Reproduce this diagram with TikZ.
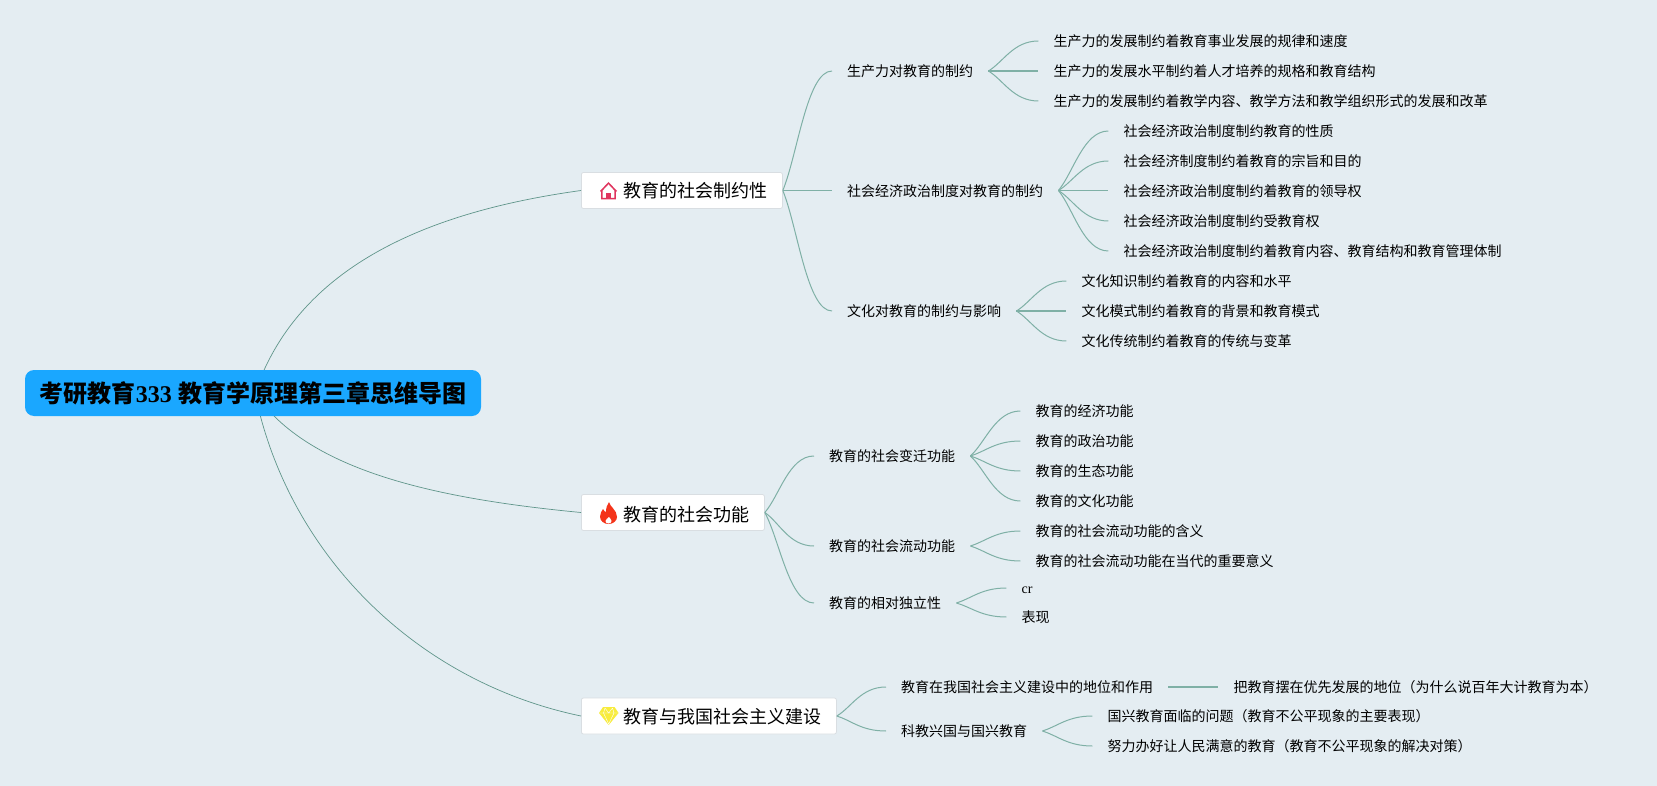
\documentclass[tikz,border=0pt]{standalone}
\usepackage{fontspec}
\setmainfont{Noto Sans CJK SC}
\newfontfamily\numfont{Liberation Serif}
\usepackage{xcolor}
\usetikzlibrary{positioning,calc}
\definecolor{bgcol}{HTML}{E4EDF2}
\definecolor{rootcol}{HTML}{1AA7FF}
\definecolor{linkcol}{HTML}{7FB0A6}
\definecolor{rootlink}{HTML}{5F958A}
\definecolor{framecol}{HTML}{D9DEE2}
\definecolor{housecol}{HTML}{E0345E}
\definecolor{flamecol}{HTML}{F4341A}
\definecolor{gemcol}{HTML}{F8EC3C}
\tikzset{
    rootnode/.style={fill=rootcol, rounded corners=9pt, minimum width=456pt, minimum height=46pt, inner sep=0pt, text height=22pt, text depth=2.8pt, font=\fontsize{24}{24}\selectfont\bfseries},
    mainnode/.style={fill=white, draw=framecol, line width=0.8pt, rounded corners=2pt, anchor=west, minimum height=36pt, inner sep=0pt},
    maintext/.style={anchor=west, inner sep=0pt, text height=18pt, text depth=2.2pt, font=\fontsize{18}{18}\selectfont},
    subnode/.style={anchor=west, inner xsep=15pt, inner ysep=2pt, text height=13.2pt, text depth=1.6pt, font=\fontsize{14}{14}\selectfont},
    leafnode/.style={subnode},
    rootedge/.style={draw=rootlink, line width=0.7pt},
    linkedge/.style={draw=linkcol, line width=1pt},
    straightedge/.style={draw=linkcol, line width=1.7pt},
}
% bent connector, leaves the parent on a slant and arrives level
\newcommand{\bendlink}[2]{\draw[linkedge] (#1.east) .. controls ($(#1.east)!0.3!(#2.west)$) and +(-25,0) .. (#2.west);}
\newcommand{\flatlink}[2]{\draw[straightedge] (#1.east) -- (#2.west);}
\begin{document}
\begin{tikzpicture}[x=1pt, y=-1pt]
    \useasboundingbox (0,0) rectangle (1657,786);
    \fill[bgcol] (0,0) rectangle (1657,786);

    % root curves go first, the root box lies on them
    \coordinate (hub) at (255,393);
    \node[mainnode, minimum width=201pt] (social) at (581,190.5) {};
    \node[mainnode, minimum width=183pt] (function) at (581,512.5) {};
    \node[mainnode, minimum width=255pt] (build) at (581,716) {};
    \draw[rootedge] (hub) .. controls (300,260) and (440,210) .. (social.west);
    \draw[rootedge] (hub) .. controls (308,472) and (440,499) .. (function.west);
    \draw[rootedge] (hub) .. controls (287,551) and (413,681) .. (build.west);
    \node[rootnode] (root) at (253,393) {考研教育{\numfont 333}\hspace{1pt} 教育学原理第三章思维导图};

    \node[maintext] (socialtext) at (623,190) {教育的社会制约性};
    \node[maintext] (functiontext) at (623,514) {教育的社会功能};
    \node[maintext] (buildtext) at (623,716) {教育与我国社会主义建设};

    % house
    \fill[housecol, even odd rule] (608.5,182) -- (617,191) -- (615.8,192) -- (615.8,199.5) -- (601.2,199.5) -- (601.2,192) -- (600,191) -- cycle
        (608.5,184.2) -- (602.7,190.4) -- (602.7,198) -- (614.3,198) -- (614.3,190.4) -- cycle;
    \fill[housecol] (606.2,193) rectangle (610.8,199);
    % flame
    \fill[flamecol] (609,502) .. controls (610,507) and (617,510) .. (617,517) .. controls (617,521) and (613,524) .. (608.5,524) .. controls (604,524) and (600,521) .. (600,516.5) .. controls (600,513) and (602,511) .. (603,509) .. controls (604,511) and (605,512) .. (606,512) .. controls (606,508) and (607,505) .. (609,502) -- cycle;
    \fill[white] (609,517) .. controls (610,518.5) and (611.5,519.5) .. (611.5,521) .. controls (611.5,522.5) and (610.2,523.5) .. (608.5,523.5) .. controls (606.8,523.5) and (605.5,522.5) .. (605.5,521) .. controls (605.5,519.5) and (607.5,518.5) .. (609,517) -- cycle;
    % diamond
    \fill[gemcol] (603,707) -- (614.5,707) -- (618.5,713) -- (608.7,725) -- (599,713) -- cycle;
    \draw[white, line width=0.4pt] (599.5,713) -- (618,713) (605,708) -- (603.5,713) -- (608.7,724) -- (614,713) -- (612.5,708) (605,708) -- (608.7,713) -- (612.5,708);

    % second level
    \node[subnode] (sp) at (832,71) {生产力对教育的制约};
    \node[subnode] (se) at (832,190.5) {社会经济政治制度对教育的制约};
    \node[subnode] (sc) at (832,311) {文化对教育的制约与影响};
    \node[subnode] (fc) at (814,456) {教育的社会变迁功能};
    \node[subnode] (fm) at (814,546) {教育的社会流动功能};
    \node[subnode] (fi) at (814,603) {教育的相对独立性};
    \node[subnode] (bs) at (886,687) {教育在我国社会主义建设中的地位和作用};
    \node[subnode] (bk) at (886,731) {科教兴国与国兴教育};

    \foreach \a in {sp,sc} {\bendlink{social}{\a}}
    \flatlink{social}{se}
    \foreach \a in {fc,fm,fi} {\bendlink{function}{\a}}
    \foreach \a in {bs,bk} {\bendlink{build}{\a}}

    % leaves
    \foreach \name/\y/\txt in {sp1/41/生产力的发展制约着教育事业发展的规律和速度, sp3/101/生产力的发展制约着教学内容、教学方法和教学组织形式的发展和改革}
        {\node[leafnode] (\name) at ($(sp.east)+(50,\y-71)$) {\txt}; \bendlink{sp}{\name}}
    \node[leafnode] (sp2) at ($(sp.east)+(50,0)$) {生产力的发展水平制约着人才培养的规格和教育结构};
    \flatlink{sp}{sp2}
    \foreach \name/\y/\txt in {se1/131/社会经济政治制度制约教育的性质, se2/161/社会经济制度制约着教育的宗旨和目的, se4/221/社会经济政治制度制约受教育权, se5/251/社会经济政治制度制约着教育内容、教育结构和教育管理体制}
        {\node[leafnode] (\name) at ($(se.east)+(50,\y-190.5)$) {\txt}; \bendlink{se}{\name}}
    \node[leafnode] (se3) at ($(se.east)+(50,0)$) {社会经济政治制度制约着教育的领导权};
    \flatlink{se}{se3}
    \foreach \name/\y/\txt in {sc1/281/文化知识制约着教育的内容和水平, sc3/341/文化传统制约着教育的传统与变革}
        {\node[leafnode] (\name) at ($(sc.east)+(50,\y-311)$) {\txt}; \bendlink{sc}{\name}}
    \node[leafnode] (sc2) at ($(sc.east)+(50,0)$) {文化模式制约着教育的背景和教育模式};
    \flatlink{sc}{sc2}
    \foreach \name/\y/\txt in {fc1/411/教育的经济功能, fc2/441/教育的政治功能, fc3/471/教育的生态功能, fc4/501/教育的文化功能}
        {\node[leafnode] (\name) at ($(fc.east)+(50,\y-456)$) {\txt}; \bendlink{fc}{\name}}
    \foreach \name/\y/\txt in {fm1/531/教育的社会流动功能的含义, fm2/561/教育的社会流动功能在当代的重要意义}
        {\node[leafnode] (\name) at ($(fm.east)+(50,\y-546)$) {\txt}; \bendlink{fm}{\name}}
    \foreach \name/\y/\txt in {fi1/588/{\numfont cr}, fi2/617/表现}
        {\node[leafnode] (\name) at ($(fi.east)+(50,\y-603)$) {\txt}; \bendlink{fi}{\name}}
    \node[leafnode] (bs1) at ($(bs.east)+(50,0)$) {把教育摆在优先发展的地位（为什么说百年大计教育为本）};
    \flatlink{bs}{bs1}
    \foreach \name/\y/\txt in {bk1/716/国兴教育面临的问题（教育不公平现象的主要表现）, bk2/746/努力办好让人民满意的教育（教育不公平现象的解决对策）}
        {\node[leafnode] (\name) at ($(bk.east)+(50,\y-731)$) {\txt}; \bendlink{bk}{\name}}
\end{tikzpicture}
\end{document}
